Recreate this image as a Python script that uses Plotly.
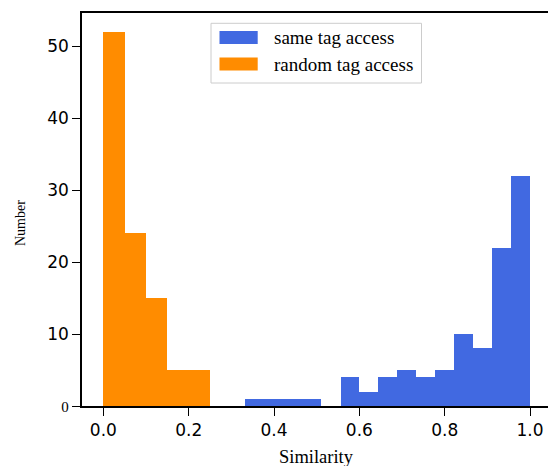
import plotly.graph_objects as go

# ---- data ----
same_edges = [0.333, 0.378, 0.422, 0.467, 0.511, 0.556, 0.600, 0.644,
              0.689, 0.733, 0.778, 0.822, 0.867, 0.911, 0.956, 1.000]
same_counts = [1, 1, 1, 1, 0, 4, 2, 4, 5, 4, 5, 10, 8, 22, 32]

random_edges = [0.00, 0.05, 0.10, 0.15, 0.20, 0.25]
random_counts = [52, 24, 15, 5, 5]

x_tick_vals = [0.0, 0.2, 0.4, 0.6, 0.8, 1.0]
x_tick_text = ["0.0", "0.2", "0.4", "0.6", "0.8", "1.0"]
y_tick_vals = [0, 10, 20, 30, 40, 50]
y_tick_text = ["0", "10", "20", "30", "40", "50"]

series_names = ["same tag access", "random tag access"]
BLUE = "#4169E1"
ORANGE = "#FF8C00"

W, H = 548, 466
ML, MR, MT, MB = 82, 0, 13, 60
PW, PH = W - ML - MR, H - MT - MB

SERIF = "Liberation Serif, Times New Roman, serif"
SANS = "DejaVu Sans, sans-serif"


def px_x(p):
    return (p - ML) / PW


def px_y(p):
    return (H - MB - p) / PH


def bars(edges, counts, color, name):
    lefts = edges[:-1]
    widths = [b - a for a, b in zip(edges[:-1], edges[1:])]
    return go.Bar(x=lefts, y=counts, width=widths, offset=0,
                  marker=dict(color=color, line=dict(width=0)),
                  name=name, showlegend=False)


fig = go.Figure()
fig.add_trace(bars(same_edges, same_counts, BLUE, series_names[0]))
fig.add_trace(bars(random_edges, random_counts, ORANGE, series_names[1]))

ytext = [f'<span style="font-family:{SERIF};font-size:15px">{t}</span>' if t == "0" else t
         for t in y_tick_text]

fig.update_layout(
    width=W, height=H, autosize=False,
    margin=dict(l=ML, r=MR, t=MT, b=MB, pad=0),
    paper_bgcolor="white", plot_bgcolor="white",
    bargap=0,
    xaxis=dict(range=[-0.05, -0.05 + 1.1 * PW / (PW + 3.4)],
               tickvals=x_tick_vals, ticktext=x_tick_text,
               ticks="outside", ticklen=8, tickwidth=1.3, tickcolor="black",
               showline=True, linecolor="black", linewidth=1.5, mirror=True,
               showgrid=False, zeroline=False,
               tickfont=dict(family=SANS, size=17, color="black")),
    yaxis=dict(range=[0, 54.6],
               tickvals=y_tick_vals, ticktext=ytext,
               ticks="outside", ticklen=8, tickwidth=1.3, tickcolor="black",
               showline=True, linecolor="black", linewidth=1.5,
               showgrid=False, zeroline=False,
               tickfont=dict(family=SANS, size=17, color="black")),
)

# axis titles
fig.add_annotation(text="Similarity", xref="paper", yref="paper",
                   x=px_x(316), y=px_y(457), xanchor="center", yanchor="middle",
                   showarrow=False, font=dict(family=SERIF, size=18.5, color="black"))
fig.add_annotation(text="Number", xref="paper", yref="paper",
                   x=px_x(20), y=px_y(223), xanchor="center", yanchor="middle",
                   textangle=-90, showarrow=False,
                   font=dict(family=SERIF, size=14, color="black"))

# legend (drawn like matplotlib's)
fig.add_shape(type="rect", xref="paper", yref="paper",
              x0=px_x(211), x1=px_x(421.5), y0=px_y(83), y1=px_y(23.3),
              fillcolor="rgba(255,255,255,0.8)", line=dict(color="#cccccc", width=1))
for i, (nm, col) in enumerate(zip(series_names, [BLUE, ORANGE])):
    yc = 37.5 + i * 26.5
    fig.add_shape(type="rect", xref="paper", yref="paper",
                  x0=px_x(219.5), x1=px_x(257.7), y0=px_y(yc + 6.5), y1=px_y(yc - 6.5),
                  fillcolor=col, line=dict(width=0))
    fig.add_annotation(text=nm, xref="paper", yref="paper",
                       x=px_x(272), y=px_y(yc), xanchor="left", yanchor="middle",
                       showarrow=False, font=dict(family=SERIF, size=19, color="black"))

fig.write_html("out.html", config={"displayModeBar": False},
               post_script="document.body.style.margin='0';document.body.style.overflow='hidden';")
